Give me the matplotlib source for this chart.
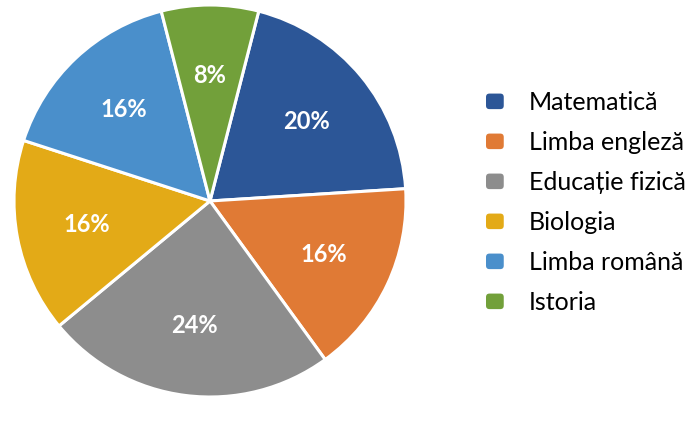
import matplotlib
matplotlib.use("Agg")
import matplotlib.pyplot as plt
from matplotlib.patches import FancyBboxPatch
from matplotlib.legend_handler import HandlerPatch

subjects = ["Matematică", "Limba engleză", "Educație fizică", "Biologia", "Limba română", "Istoria"]
shares = [20, 16, 24, 16, 16, 8]
colors = ["#2c5697", "#e07a35", "#8d8d8d", "#e3aa17", "#4a8fcb", "#72a03a"]

plt.rcParams['font.family'] = ['Lato', 'DejaVu Sans']


class RoundBox(HandlerPatch):
    def create_artists(self, legend, orig, xd, yd, w, h, fs, trans):
        p = FancyBboxPatch((-xd, -yd), w, h, boxstyle="round,pad=0,rounding_size=2.5",
                           facecolor=orig.get_facecolor(), edgecolor='none', transform=trans)
        return [p]


fig = plt.figure(figsize=(6.92, 4.24), dpi=100)
ax = fig.add_axes([14 / 692, 27 / 424, 392 / 692, 392 / 424])

wedges, texts, autotexts = ax.pie(
    shares, colors=colors, startangle=90 - 14.4, counterclock=False,
    autopct='%d%%', pctdistance=0.64, radius=1.0,
    wedgeprops=dict(edgecolor='white', linewidth=2.2),
    textprops=dict(color='white', fontsize=17, fontweight='bold'))
ax.set_xlim(-1.0, 1.0)
ax.set_ylim(-1.0, 1.0)
ax.set_aspect('auto')
ax.axis('off')

fig.legend(wedges, subjects, loc='center left', bbox_to_anchor=(486 / 692, 0.522),
           frameon=False, fontsize=18, handlelength=0.71, handleheight=0.58,
           handletextpad=1.0, labelspacing=0.68, borderpad=0, borderaxespad=0,
           handler_map={w: RoundBox() for w in wedges})

fig.savefig("out.png", dpi=100)
